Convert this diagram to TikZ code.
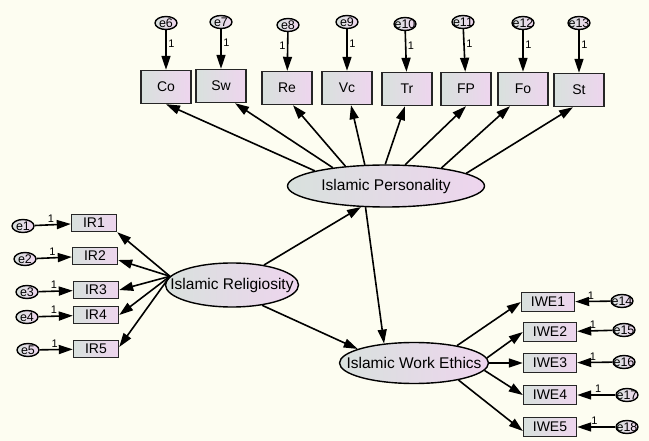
\documentclass[tikz,border=0pt]{standalone}
\usepackage{fontspec}
\setmainfont{Liberation Sans}
\usetikzlibrary{arrows.meta, shapes.geometric}
\definecolor{Canvas}{RGB}{253,253,241}
\definecolor{ShadeLeft}{RGB}{216,225,221}
\definecolor{ShadeRight}{RGB}{238,213,238}
\newcommand{\fixedlabel}[1]{\makebox[0pt]{#1}}
\tikzset{
    observed/.style={
        draw=black!85, line width=1.4pt, left color=ShadeLeft, right color=ShadeRight,
        minimum width=50pt, minimum height=33pt, inner sep=0pt,
        font=\fontsize{14}{14}\selectfont
    },
    small observed/.style={
        observed, minimum width=45pt, minimum height=17pt
    },
    wide observed/.style={
        observed, minimum width=53pt, minimum height=19pt
    },
    latent/.style={
        ellipse, draw, line width=1.4pt, left color=ShadeLeft, right color=ShadeRight,
        inner sep=0pt, font=\fontsize{15.5}{15.5}\selectfont
    },
    errvar/.style={
        ellipse, draw, line width=1.4pt, left color=ShadeLeft, right color=ShadeRight,
        minimum width=22pt, minimum height=13pt, inner sep=0pt,
        font=\fontsize{12.5}{12.5}\selectfont
    },
    path arrow/.style={-{Triangle[length=14pt,width=9pt]}, line width=1.6pt},
    weight/.style={font=\fontsize{11}{11}\selectfont, inner sep=1.5pt}
}

\begin{document}
\begin{tikzpicture}[x=1pt, y=-1pt]

% Lienzo
\fill[Canvas] (0,0) rectangle (649,441);
\useasboundingbox (0,0) rectangle (649,441);

% Variables latentes
\node[latent, minimum width=197pt, minimum height=42pt] (IP) at (386,186) {\fixedlabel{Islamic Personality}};
\node[latent, minimum width=133pt, minimum height=44pt] (IR) at (232,285) {\fixedlabel{Islamic Religiosity}};
\node[latent, minimum width=149pt, minimum height=41pt] (IWE) at (414,363) {\fixedlabel{Islamic Work Ethics}};

% Indicadores de Islamic Personality
\node[observed] (Co) at (166,87) {Co};
\node[observed] (Sw) at (221,86) {Sw};
\node[observed] (Re) at (287,88) {Re};
\node[observed] (Vc) at (347,88) {Vc};
\node[observed] (Tr) at (407,89) {Tr};
\node[observed] (FP) at (466,89) {FP};
\node[observed] (Fo) at (523,89) {Fo};
\node[observed] (St) at (579,90) {St};

% Errores de arriba
\node[errvar] (e6) at (166,23) {\fixedlabel{e6}};
\node[errvar] (e7) at (221,22) {\fixedlabel{e7}};
\node[errvar] (e8) at (288,25) {\fixedlabel{e8}};
\node[errvar] (e9) at (347,22) {\fixedlabel{e9}};
\node[errvar] (e10) at (405,24) {\fixedlabel{e10}};
\node[errvar] (e11) at (463,22) {\fixedlabel{e11}};
\node[errvar] (e12) at (523,23) {\fixedlabel{e12}};
\node[errvar] (e13) at (579,23) {\fixedlabel{e13}};

% Indicadores de Islamic Religiosity
\node[small observed] (IR1) at (94,223) {IR1};
\node[small observed] (IR2) at (95,256) {IR2};
\node[small observed] (IR3) at (96,290) {IR3};
\node[small observed] (IR4) at (96,315) {IR4};
\node[small observed] (IR5) at (96,349) {IR5};

\node[errvar] (e1) at (23,226) {\fixedlabel{e1}};
\node[errvar] (e2) at (25,259) {\fixedlabel{e2}};
\node[errvar] (e3) at (27,292) {\fixedlabel{e3}};
\node[errvar] (e4) at (27,317) {\fixedlabel{e4}};
\node[errvar] (e5) at (28,350) {\fixedlabel{e5}};

% Indicadores de Islamic Work Ethics
\node[wide observed] (IWE1) at (548,302) {IWE1};
\node[wide observed] (IWE2) at (550,332) {IWE2};
\node[wide observed] (IWE3) at (550,363) {IWE3};
\node[wide observed] (IWE4) at (550,395) {IWE4};
\node[wide observed] (IWE5) at (550,427) {IWE5};

\node[errvar] (e14) at (622,301) {\fixedlabel{e14}};
\node[errvar] (e15) at (624,330) {\fixedlabel{e15}};
\node[errvar] (e16) at (624,362) {\fixedlabel{e16}};
\node[errvar] (e17) at (627,395) {\fixedlabel{e17}};
\node[errvar] (e18) at (627,427) {\fixedlabel{e18}};

% Relaciones estructurales
\draw[path arrow] (IR.32) -- (IP.220);
\draw[path arrow] (IR.-34) -- (IWE.166);
\draw[path arrow] (IP.226) -- (IWE.147);

% Cargas factoriales
\draw[path arrow] (IP.168) -- (Co.south);
\draw[path arrow] (IP.161) -- ([xshift=14pt]Sw.south);
\draw[path arrow] (IP.154) -- ([xshift=6pt]Re.south);
\draw[path arrow] (IP.135) -- ([xshift=4pt]Vc.south);
\draw[path arrow] (IP.92) -- ([xshift=-2pt]Tr.south);
\draw[path arrow] (IP.48) -- (FP.south);
\draw[path arrow] (IP.18) -- ([xshift=-13pt]Fo.south);
\draw[path arrow] (IP.9) -- ([xshift=-6pt]St.south);

\draw[path arrow] (IR.172) -- (IR1.south east);
\draw[path arrow] (IR.172) -- ([yshift=-4pt]IR2.east);
\draw[path arrow] (IR.172) -- (IR3.east);
\draw[path arrow] (IR.172) -- (IR4.east);
\draw[path arrow] (IR.172) -- ([yshift=2pt]IR5.east);

\draw[path arrow] (IWE.22) -- (IWE1.west);
\draw[path arrow] (IWE.4) -- (IWE2.west);
\draw[path arrow] (IWE.0) -- (IWE3.west);
\draw[path arrow] (IWE.-6) -- (IWE4.west);
\draw[path arrow] (IWE.-21) -- ([yshift=-4pt]IWE5.west);

% Errores con peso fijo 1
\draw[path arrow] (e6) -- node[weight, pos=0.35, right] {1} (Co);
\draw[path arrow] (e7) -- node[weight, pos=0.35, right] {1} (Sw);
\draw[path arrow] (e8) -- node[weight, pos=0.35, left] {1} (Re);
\draw[path arrow] (e9) -- node[weight, pos=0.35, right] {1} (Vc);
\draw[path arrow] (e10) -- node[weight, pos=0.35, right] {1} (Tr);
\draw[path arrow] (e11) -- node[weight, pos=0.35, right] {1} (FP);
\draw[path arrow] (e12) -- node[weight, pos=0.35, right] {1} (Fo);
\draw[path arrow] (e13) -- node[weight, pos=0.35, right] {1} (St);

\draw[path arrow] (e1) -- node[weight, pos=0.45, above] {1} (IR1);
\draw[path arrow] (e2) -- node[weight, pos=0.45, above] {1} (IR2);
\draw[path arrow] (e3) -- node[weight, pos=0.45, above] {1} (IR3);
\draw[path arrow] (e4) -- node[weight, pos=0.45, above] {1} (IR4);
\draw[path arrow] (e5) -- node[weight, pos=0.45, above] {1} (IR5);

\draw[path arrow] (e14) -- node[weight, pos=0.55, above] {1} (IWE1);
\draw[path arrow] (e15) -- node[weight, pos=0.55, above] {1} (IWE2);
\draw[path arrow] (e16) -- node[weight, pos=0.55, above] {1} (IWE3);
\draw[path arrow] (e17) -- node[weight, pos=0.45, above] {1} (IWE4);
\draw[path arrow] (e18) -- node[weight, pos=0.55, above] {1} (IWE5);

\end{tikzpicture}
\end{document}
